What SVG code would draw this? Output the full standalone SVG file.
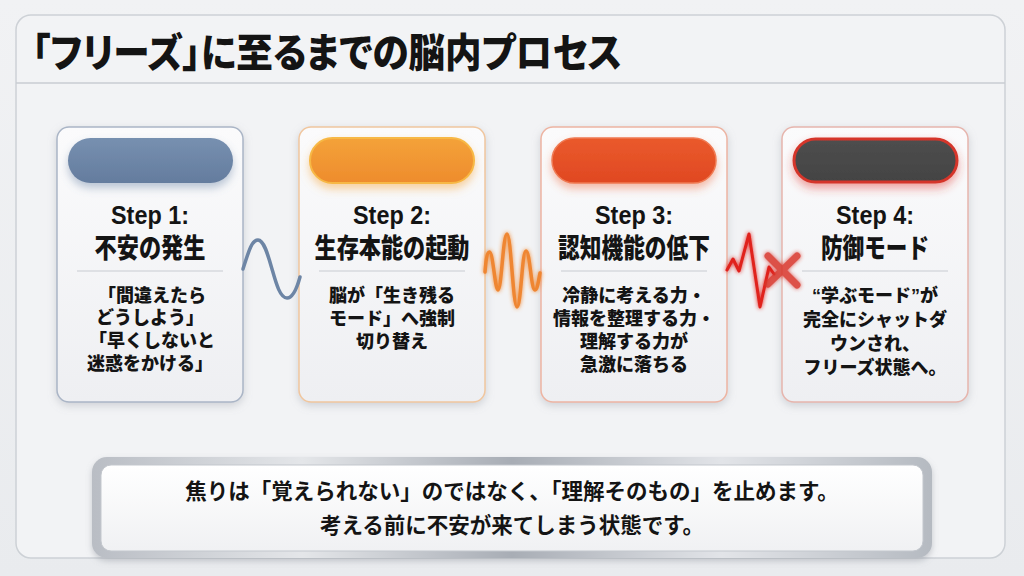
<svg xmlns="http://www.w3.org/2000/svg" width="1024" height="576" viewBox="0 0 1024 576">
<defs>
  <linearGradient id="bg" x1="0" y1="0" x2="0" y2="1">
    <stop offset="0" stop-color="#f1f2f4"/>
    <stop offset="1" stop-color="#e9ebee"/>
  </linearGradient>
  <linearGradient id="cardFill" x1="0" y1="0" x2="0" y2="1">
    <stop offset="0" stop-color="#fbfbfc"/>
    <stop offset="1" stop-color="#eeeff2"/>
  </linearGradient>
  <linearGradient id="metal" x1="0" y1="0" x2="1" y2="0">
    <stop offset="0" stop-color="#b9bdc4"/>
    <stop offset="0.25" stop-color="#e4e6e9"/>
    <stop offset="0.5" stop-color="#a8adb5"/>
    <stop offset="0.75" stop-color="#e2e4e8"/>
    <stop offset="1" stop-color="#b5bac1"/>
  </linearGradient>
  <linearGradient id="inner" x1="0" y1="0" x2="0" y2="1">
    <stop offset="0" stop-color="#ffffff"/>
    <stop offset="1" stop-color="#f0f1f3"/>
  </linearGradient>
  <linearGradient id="p1" x1="0" y1="0" x2="0" y2="1">
    <stop offset="0" stop-color="#7790b0"/>
    <stop offset="1" stop-color="#647c9e"/>
  </linearGradient>
  <linearGradient id="p2" x1="0" y1="0" x2="0" y2="1">
    <stop offset="0" stop-color="#f4a23a"/>
    <stop offset="1" stop-color="#ee8c2c"/>
  </linearGradient>
  <linearGradient id="p3" x1="0" y1="0" x2="0" y2="1">
    <stop offset="0" stop-color="#ea5a2c"/>
    <stop offset="1" stop-color="#e04822"/>
  </linearGradient>
  <linearGradient id="p4" x1="0" y1="0" x2="0" y2="1">
    <stop offset="0" stop-color="#4e4e4e"/>
    <stop offset="1" stop-color="#434343"/>
  </linearGradient>
  <filter id="cardShadow" x="-20%" y="-20%" width="140%" height="140%">
    <feDropShadow dx="0" dy="3" stdDeviation="4" flood-color="#8a909a" flood-opacity="0.35"/>
  </filter>
  <filter id="g1" x="-20%" y="-40%" width="140%" height="200%">
    <feDropShadow dx="0" dy="5" stdDeviation="4" flood-color="#6b84a6" flood-opacity="0.45"/>
  </filter>
  <filter id="g2" x="-20%" y="-40%" width="140%" height="200%">
    <feDropShadow dx="0" dy="5" stdDeviation="4" flood-color="#f5a740" flood-opacity="0.5"/>
  </filter>
  <filter id="g3" x="-20%" y="-40%" width="140%" height="200%">
    <feDropShadow dx="0" dy="5" stdDeviation="4" flood-color="#ec6a40" flood-opacity="0.45"/>
  </filter>
  <filter id="g4" x="-20%" y="-40%" width="140%" height="200%">
    <feDropShadow dx="0" dy="5" stdDeviation="5" flood-color="#e0352a" flood-opacity="0.45"/>
  </filter>
  <filter id="glow" x="-30%" y="-30%" width="160%" height="160%">
    <feGaussianBlur in="SourceGraphic" stdDeviation="2" result="b"/>
    <feMerge><feMergeNode in="b"/><feMergeNode in="SourceGraphic"/></feMerge>
  </filter>
  <filter id="boxShadow" x="-10%" y="-20%" width="120%" height="150%">
    <feDropShadow dx="0" dy="3" stdDeviation="3" flood-color="#80868f" flood-opacity="0.4"/>
  </filter>
</defs>
<style>
  .jp { font-family: "Noto Sans CJK JP", "Noto Sans", sans-serif; fill: #141414; }
  .title { font-size: 40px; font-weight: 900; font-feature-settings: "palt"; }
  .step { font-family: "Liberation Sans", Arial, sans-serif; font-weight: 700; font-size: 26px; fill: #141414; text-anchor: middle; }
  .head { font-family: "Liberation Sans", "Noto Sans CJK JP", sans-serif; font-size: 27px; font-weight: 900; text-anchor: middle; fill: #141414; }
  .body { font-family: "Liberation Sans", "Noto Sans CJK JP", sans-serif; font-size: 18px; font-weight: 900; text-anchor: middle; fill: #141414; }
  .note { font-size: 21.5px; font-weight: 700; text-anchor: middle; }
  .card { fill: url(#cardFill); stroke-width: 1.5; filter: url(#cardShadow); }
  .div { stroke: #c8ccd2; stroke-width: 1.2; }
  .wave { fill: none; stroke-linecap: round; stroke-linejoin: round; }
</style>

<rect x="0" y="0" width="1024" height="576" fill="url(#bg)"/>

<g id="panel">
  <rect x="16" y="15" width="989" height="543" rx="15" fill="#f2f3f5" stroke="#cdd1d6" stroke-width="1.5"/>
  <line x1="16" y1="83" x2="1005" y2="83" stroke="#c9cdd2" stroke-width="1.5"/>
  <text class="jp title" x="32" y="67" textLength="590" lengthAdjust="spacingAndGlyphs">「フリーズ」に至るまでの脳内プロセス</text>
</g>

<g id="step1">
  <rect class="card" x="57" y="127" width="186" height="275" rx="12" stroke="#aab5c6"/>
  <rect x="68" y="138" width="165" height="45" rx="22.5" fill="url(#p1)" filter="url(#g1)"/>
  <text class="step" x="150" y="224" textLength="78" lengthAdjust="spacingAndGlyphs">Step 1:</text>
  <text class="head" x="150" y="258" textLength="111" lengthAdjust="spacingAndGlyphs">不安の発生</text>
  <line class="div" x1="77" y1="271" x2="223" y2="271"/>
  <text class="body" x="152" y="302">「間違えたら</text>
  <text class="body" x="150" y="324">どうしよう」</text>
  <text class="body" x="152" y="347">「早くしないと</text>
  <text class="body" x="150" y="370">迷惑をかける」</text>
</g>

<g id="step2">
  <rect class="card" x="299" y="127" width="186" height="275" rx="12" stroke="#f0c69e"/>
  <rect x="310" y="138" width="164" height="45" rx="22.5" fill="url(#p2)" stroke="#f7b844" stroke-width="2" filter="url(#g2)"/>
  <text class="step" x="392" y="224" textLength="78" lengthAdjust="spacingAndGlyphs">Step 2:</text>
  <text class="head" x="392" y="258" textLength="155" lengthAdjust="spacingAndGlyphs">生存本能の起動</text>
  <line class="div" x1="319" y1="271" x2="465" y2="271"/>
  <text class="body" x="392" y="302">脳が「生き残る</text>
  <text class="body" x="392" y="325">モード」へ強制</text>
  <text class="body" x="392" y="348">切り替え</text>
</g>

<g id="step3">
  <rect class="card" x="541" y="127" width="186" height="275" rx="12" stroke="#edb4a2"/>
  <rect x="552" y="138" width="164" height="45" rx="22.5" fill="url(#p3)" stroke="#ef7a52" stroke-width="1.5" filter="url(#g3)"/>
  <text class="step" x="634" y="224" textLength="78" lengthAdjust="spacingAndGlyphs">Step 3:</text>
  <text class="head" x="634" y="258" textLength="152" lengthAdjust="spacingAndGlyphs">認知機能の低下</text>
  <line class="div" x1="561" y1="271" x2="707" y2="271"/>
  <text class="body" x="634" y="302">冷静に考える力・</text>
  <text class="body" x="634" y="325">情報を整理する力・</text>
  <text class="body" x="634" y="348">理解する力が</text>
  <text class="body" x="634" y="371">急激に落ちる</text>
</g>

<g id="step4">
  <rect class="card" x="782" y="127" width="186" height="275" rx="12" stroke="#e6b5ad"/>
  <rect x="794" y="139" width="163" height="43" rx="21.5" fill="url(#p4)" stroke="#d5362a" stroke-width="3" filter="url(#g4)"/>
  <text class="step" x="875" y="224" textLength="78" lengthAdjust="spacingAndGlyphs">Step 4:</text>
  <text class="head" x="875" y="258" textLength="108" lengthAdjust="spacingAndGlyphs">防御モード</text>
  <line class="div" x1="802" y1="271" x2="948" y2="271"/>
  <text class="body" x="875" y="302">“学ぶモード”が</text>
  <text class="body" x="875" y="326">完全にシャットダ</text>
  <text class="body" x="875" y="350">ウンされ、</text>
  <text class="body" x="875" y="374">フリーズ状態へ。</text>
</g>

<g id="connectors">
  <path class="wave" stroke="#6d85a5" stroke-width="3.5" d="M243 269 C249 250 252 240 258 240 C264 240 268 255 272 269 C276 283 280 298 287 298 C293 298 297 288 300 277"/>
  <path class="wave" stroke="#ef8630" stroke-width="3.5" filter="url(#glow)" d="M485 272 C486 260 487 252 489.5 252 C493 252 495 290 498 290 C501.5 290 503 234 507 234 C511 234 513 307 517 307 C521 307 522 251 526 251 C530 251 531 290 535 290 C537.5 290 538.5 280 540 273"/>
  <polyline class="wave" stroke="#e0201c" stroke-width="3" filter="url(#glow)" points="727,270 733,259 739,271 749,234 760,307 769,267 774,274"/>
  <g stroke="#d9352c" stroke-width="7" stroke-linecap="round" opacity="0.85" filter="url(#glow)">
    <line x1="768" y1="256" x2="797" y2="285"/>
    <line x1="797" y1="256" x2="768" y2="284"/>
  </g>
</g>

<g id="summary">
  <rect x="92" y="457" width="840" height="101" rx="15" fill="url(#metal)" filter="url(#boxShadow)"/>
  <rect x="101" y="465" width="822" height="86" rx="10" fill="url(#inner)" stroke="#c3c7cd" stroke-width="1"/>
  <text class="jp note" x="512" y="499">焦りは「覚えられない」のではなく、「理解そのもの」を止めます。</text>
  <text class="jp note" x="512" y="533">考える前に不安が来てしまう状態です。</text>
</g>
</svg>
